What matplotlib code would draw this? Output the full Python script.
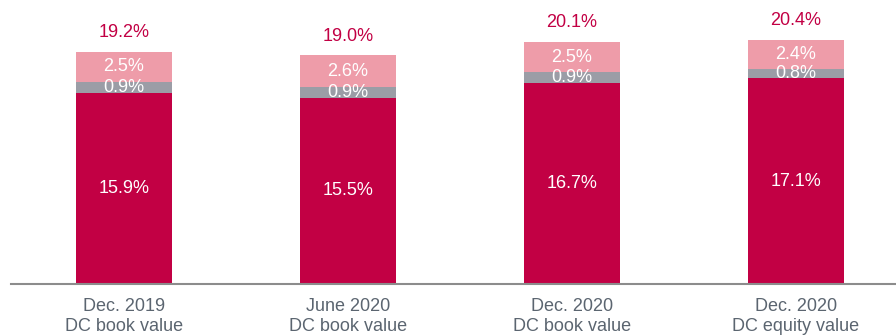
import numpy as np
import matplotlib.pyplot as plt

plt.rcParams['font.family'] = ['Liberation Sans', 'DejaVu Sans']

categories = ['Dec. 2019\nDC book value', 'June 2020\nDC book value',
              'Dec. 2020\nDC book value', 'Dec. 2020\nDC equity value']
base = [15.9, 15.5, 16.7, 17.1]
middle = [0.9, 0.9, 0.9, 0.8]
upper = [2.5, 2.6, 2.5, 2.4]
totals = [19.2, 19.0, 20.1, 20.4]

c_base = '#C20044'
c_mid = '#9B9DA6'
c_up = '#EE9CA9'
fs = 13

fig = plt.figure(figsize=(8.96, 3.36), dpi=100)
ax = fig.add_axes([11 / 896, 52 / 336, 1 - 11 / 896, 1 - 52 / 336])

x = np.arange(len(categories))
w = 0.43
b0 = np.array(base)
b1 = b0 + np.array(middle)
ax.bar(x, base, w, color=c_base)
ax.bar(x, middle, w, bottom=b0, color=c_mid)
ax.bar(x, upper, w, bottom=b1, color=c_up)

for i in range(len(x)):
    ax.text(x[i], base[i] / 2, f'{base[i]:.1f}%', ha='center', va='center',
            color='white', fontsize=fs)
    ax.text(x[i], b0[i] + middle[i] / 2, f'{middle[i]:.1f}%', ha='center',
            va='center', color='white', fontsize=fs)
    ax.text(x[i], b1[i] + upper[i] / 2, f'{upper[i]:.1f}%', ha='center',
            va='center', color='white', fontsize=fs)
    top = b1[i] + upper[i]
    ax.text(x[i], top + 1.6, f'{totals[i]:.1f}%', ha='center', va='center',
            color=c_base, fontsize=fs)

ax.set_xlim(-113 / 224, (896 - 124) / 224)
ax.set_ylim(0, 284 / 12.03)
ax.set_xticks(x)
ax.set_xticklabels(categories, fontsize=fs, color='#5B6570', linespacing=1.22)
ax.tick_params(axis='x', length=0, pad=10)
ax.set_yticks([])
for s in ['top', 'right', 'left']:
    ax.spines[s].set_visible(False)
ax.spines['bottom'].set_color('#8C8C8C')
ax.spines['bottom'].set_linewidth(1.5)

fig.savefig('out.png', dpi=100)
